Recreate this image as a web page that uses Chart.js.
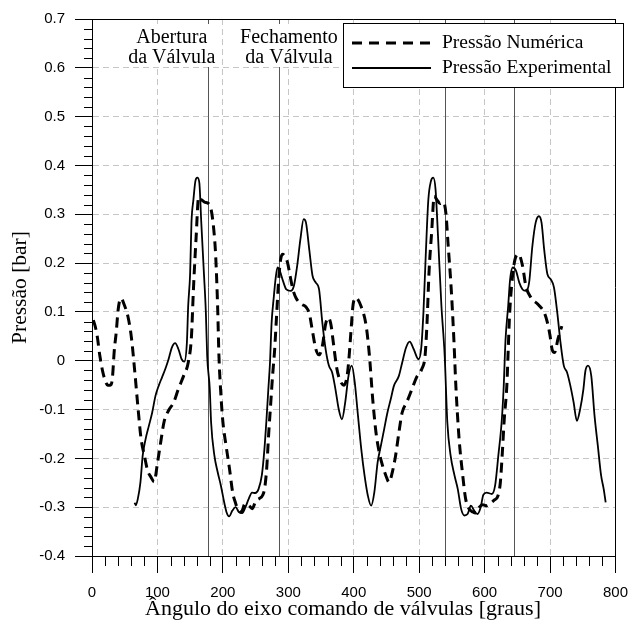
<!DOCTYPE html>
<html>
<head>
<meta charset="utf-8">
<script src="https://cdn.jsdelivr.net/npm/chart.js@4.4.0/dist/chart.umd.min.js"></script>
<style>
  html, body { margin: 0; padding: 0; background: #fff; }
  #wrap { width: 639px; height: 621px; }
</style>
</head>
<body>
<div id="wrap"><canvas id="pressureChart" width="639" height="621"></canvas></div>
<script>
// Numerical pressure (dashed)
const numAngle = [2, 5, 8, 12, 16, 20, 24, 28, 31, 34, 37, 40, 44, 50, 55, 60, 65, 70, 75, 80,
  85, 90, 95, 100, 105, 110, 117, 125, 132, 140, 147, 152, 155, 159, 163, 167, 172, 178, 182, 186,
  189, 192, 194, 197, 200, 205, 210, 215, 219, 223, 228, 234, 240, 245, 250, 256, 261, 264, 267, 270,
  273, 276, 279, 282, 285, 288, 291, 295, 299, 303, 307, 312, 320, 327, 332, 337, 342, 347, 352, 357,
  361, 365, 369, 374, 379, 385, 390, 393, 396, 399, 403, 411, 419, 424, 429, 434, 439, 444, 449, 454,
  459, 464, 469, 474, 481, 489, 496, 504, 509, 512, 515, 519, 523, 527, 532, 537, 541, 544, 549, 553,
  556, 561, 566, 571, 576, 582, 587, 592, 597, 602, 609, 615, 620, 624, 627, 630, 634, 636, 638, 641,
  646, 652, 658, 663, 671, 681, 691, 696, 700, 703, 707, 712, 718];
const numPressure = [0.083, 0.07, 0.05, 0.01, -0.02, -0.04, -0.05, -0.05, -0.038, 0.02, 0.058, 0.105, 0.128, 0.112, 0.09, 0.05, -0.017, -0.092, -0.16, -0.194,
  -0.225, -0.238, -0.248, -0.21, -0.167, -0.126, -0.102, -0.085, -0.058, -0.031, -0.004, 0.05, 0.146, 0.25, 0.335, 0.33, 0.325, 0.322, 0.31, 0.27,
  0.215, 0.11, 0.01, -0.07, -0.125, -0.175, -0.22, -0.27, -0.29, -0.305, -0.31, -0.293, -0.297, -0.303, -0.288, -0.282, -0.275, -0.26, -0.22, -0.15,
  -0.09, -0.03, 0.02, 0.09, 0.16, 0.205, 0.218, 0.214, 0.2, 0.172, 0.146, 0.128, 0.116, 0.11, 0.097, 0.06, 0.024, 0.012, 0.03, 0.075,
  0.088, 0.075, 0.035, -0.015, -0.04, -0.05, -0.03, 0.01, 0.065, 0.115, 0.129, 0.112, 0.071, 0.01, -0.079, -0.147, -0.188, -0.215, -0.235, -0.249,
  -0.228, -0.194, -0.147, -0.106, -0.085, -0.058, -0.034, -0.017, 0.01, 0.078, 0.18, 0.262, 0.337, 0.33, 0.322, 0.325, 0.3, 0.242, 0.146, 0.044,
  -0.05, -0.16, -0.228, -0.283, -0.303, -0.31, -0.312, -0.3, -0.295, -0.297, -0.292, -0.285, -0.278, -0.25, -0.19, -0.12, -0.05, 0.02, 0.09, 0.15,
  0.205, 0.218, 0.194, 0.153, 0.129, 0.116, 0.099, 0.078, 0.051, 0.024, 0.017, 0.044, 0.071];

// Experimental pressure (solid)
const expAngle = [65, 67, 70, 74, 77.5, 82, 87, 92, 97, 102, 107, 112, 117, 122, 127, 132, 137, 141, 145, 147,
  150, 152, 155, 158, 161, 164, 167, 171, 174, 176, 180, 182, 187, 192, 197, 202, 206, 209.5, 214.5, 219.5,
  224.5, 229.5, 234.5, 239.5, 244.5, 249.5, 254.5, 259.5, 263.5, 267, 269.5, 272, 274.5, 278, 280.5, 283.5, 287, 292, 297, 303.5,
  308.5, 313.5, 318.5, 323.5, 327, 332, 337, 342, 347, 352, 357, 362, 367, 372, 377, 382, 387, 392, 397, 401.5,
  406.5, 411.5, 416.5, 421.5, 426.5, 431.5, 436.5, 441.5, 446.5, 451.5, 456.5, 461.5, 469, 474, 480, 485.5, 491.5, 499, 503, 506.5,
  510, 514, 518, 521.5, 525, 529, 534, 539, 543, 548, 554, 559, 564, 569, 574, 579, 584, 589, 594, 598,
  603, 611, 616, 621, 626, 629, 632, 636, 639, 643, 648, 653, 658, 663, 668, 673, 678, 683, 687, 691,
  696, 701, 706, 711, 716, 721, 726, 731, 736, 741, 746, 751, 754, 758, 763, 768, 773, 778, 782, 785];
const expPressure = [-0.291, -0.296, -0.283, -0.249, -0.194, -0.16, -0.133, -0.106, -0.072, -0.051, -0.034, -0.017, 0.003, 0.027, 0.036, 0.024, 0.003, -0.002, 0.037, 0.112,
  0.18, 0.283, 0.33, 0.368, 0.375, 0.365, 0.283, 0.18, 0.099, 0.01, -0.058, -0.126, -0.194, -0.228, -0.256, -0.29, -0.312, -0.319, -0.307, -0.3,
  -0.31, -0.312, -0.3, -0.283, -0.27, -0.271, -0.263, -0.235, -0.181, -0.113, -0.058, -0.004, 0.078, 0.133, 0.167, 0.191, 0.184, 0.163, 0.146, 0.143,
  0.153, 0.194, 0.249, 0.29, 0.283, 0.228, 0.174, 0.16, 0.146, 0.078, 0.024, -0.01, -0.024, -0.058, -0.099, -0.12, -0.085, -0.031, -0.01, -0.044,
  -0.113, -0.181, -0.235, -0.276, -0.297, -0.269, -0.208, -0.174, -0.14, -0.106, -0.079, -0.051, -0.031, -0.004, 0.027, 0.039, 0.024, 0.003, 0.024, 0.099,
  0.215, 0.33, 0.368, 0.375, 0.351, 0.249, 0.112, 0.01, -0.126, -0.194, -0.235, -0.263, -0.303, -0.317, -0.314, -0.297, -0.307, -0.314, -0.3, -0.275,
  -0.27, -0.273, -0.256, -0.194, -0.126, -0.058, 0.044, 0.112, 0.167, 0.191, 0.184, 0.16, 0.146, 0.143, 0.16, 0.235, 0.283, 0.296, 0.283, 0.228,
  0.177, 0.167, 0.15, 0.099, 0.037, -0.01, -0.024, -0.051, -0.085, -0.123, -0.099, -0.058, -0.021, -0.01, -0.031, -0.113, -0.174, -0.235, -0.263, -0.29];

// valve opening / closing angles (vertical lines)
const valveAngles = [178, 286, 540, 645];
const seriesLabels = ['Pressão Numérica', 'Pressão Experimental'];
const xTitle = 'Ângulo do eixo comando de válvulas [graus]';
const yTitle = 'Pressão [bar]';

const SERIF = '"Liberation Serif", "Times New Roman", serif';
const SANS = '"Liberation Sans", Arial, sans-serif';

const toPoints = (xs, ys) => xs.map((x, i) => ({ x: x, y: ys[i] }));

const decor = {
  id: 'decor',
  beforeDatasetsDraw(chart) {
    const { ctx, chartArea: a, scales: { x } } = chart;
    ctx.save();
    ctx.strokeStyle = '#555';
    ctx.lineWidth = 1;
    valveAngles.forEach(v => {
      const px = Math.round(x.getPixelForValue(v)) + 0.5;
      ctx.beginPath();
      ctx.moveTo(px, a.top);
      ctx.lineTo(px, a.bottom);
      ctx.stroke();
    });
    ctx.restore();
  },
  afterDraw(chart) {
    const { ctx, chartArea: a, scales: { x, y } } = chart;
    ctx.save();

    // minor ticks
    ctx.strokeStyle = '#000';
    ctx.lineWidth = 1;
    for (let v = 20; v < 800; v += 20) {
      if (v % 100 === 0) continue;
      const px = Math.round(x.getPixelForValue(v)) + 0.5;
      ctx.beginPath();
      ctx.moveTo(px, a.bottom);
      ctx.lineTo(px, a.bottom + 10);
      ctx.stroke();
    }
    for (let k = -20; k <= 35; k++) {
      if (k % 5 === 0) continue;
      const py = Math.round(y.getPixelForValue(k * 0.02)) + 0.5;
      ctx.beginPath();
      ctx.moveTo(a.left - 8, py);
      ctx.lineTo(a.left, py);
      ctx.stroke();
    }

    // frame top and right
    ctx.beginPath();
    ctx.moveTo(a.left, Math.round(a.top) + 0.5);
    ctx.lineTo(a.right, Math.round(a.top) + 0.5);
    ctx.moveTo(Math.round(a.right) + 0.5, a.top);
    ctx.lineTo(Math.round(a.right) + 0.5, a.bottom);
    ctx.stroke();

    // valve annotations
    ctx.font = '20px ' + SERIF;
    ctx.fillStyle = '#000';
    ctx.textAlign = 'center';
    ctx.textBaseline = 'alphabetic';
    const notes = [
      { at: 122, lines: ['Abertura', 'da Válvula'] },
      { at: 301, lines: ['Fechamento', 'da Válvula'] }
    ];
    notes.forEach(n => {
      const cx = x.getPixelForValue(n.at);
      const w = Math.max(...n.lines.map(t => ctx.measureText(t).width)) + 4;
      ctx.fillStyle = '#fff';
      ctx.fillRect(cx - w / 2, a.top + 5, w, 43);
      ctx.fillStyle = '#000';
      ctx.fillText(n.lines[0], cx, a.top + 24);
      ctx.fillText(n.lines[1], cx, a.top + 44);
    });

    // legend
    const lx = 343, ly = 23, lw = 280, lh = 64;
    ctx.fillStyle = '#fff';
    ctx.fillRect(lx, ly, lw, lh);
    ctx.strokeStyle = '#000';
    ctx.lineWidth = 1;
    ctx.strokeRect(lx + 0.5, ly + 0.5, lw, lh);
    ctx.font = '19.5px ' + SERIF;
    const rows = [
      { label: seriesLabels[0], dash: [10, 7], width: 3, yy: 43 },
      { label: seriesLabels[1], dash: [], width: 1.8, yy: 68 }
    ];
    rows.forEach(r => {
      ctx.setLineDash(r.dash);
      ctx.lineWidth = r.width;
      ctx.beginPath();
      ctx.moveTo(352, r.yy);
      ctx.lineTo(431, r.yy);
      ctx.stroke();
      ctx.setLineDash([]);
      ctx.fillStyle = '#000';
      ctx.textAlign = 'left';
      ctx.textBaseline = 'middle';
      ctx.fillText(r.label, 442, r.yy);
    });

    // axis titles
    ctx.font = '22px ' + SERIF;
    ctx.textAlign = 'center';
    ctx.textBaseline = 'alphabetic';
    ctx.fillText(xTitle, 343, 615);
    ctx.font = '21.5px ' + SERIF;
    ctx.translate(20, (a.top + a.bottom) / 2);
    ctx.rotate(-Math.PI / 2);
    ctx.textBaseline = 'middle';
    ctx.fillText(yTitle, 0, 0);
    ctx.restore();
  }
};

const gridColor = (edge) => (c) => {
  const v = c.tick ? c.tick.value : null;
  return (v !== null && edge.some(e => Math.abs(v - e) < 1e-6)) ? 'rgba(0,0,0,0)' : '#c6c6c6';
};

new Chart(document.getElementById('pressureChart').getContext('2d'), {
  type: 'line',
  data: {
    datasets: [
      {
        label: seriesLabels[0],
        data: toPoints(numAngle, numPressure),
        borderColor: '#000',
        borderWidth: 3,
        borderDash: [10, 6],
        pointRadius: 0,
        cubicInterpolationMode: 'monotone',
        fill: false
      },
      {
        label: seriesLabels[1],
        data: toPoints(expAngle, expPressure),
        borderColor: '#000',
        borderWidth: 1.8,
        pointRadius: 0,
        cubicInterpolationMode: 'monotone',
        fill: false
      }
    ]
  },
  options: {
    responsive: false,
    devicePixelRatio: 1,
    animation: false,
    layout: { padding: { top: 18, right: 13, left: 0, bottom: 0 } },
    plugins: { legend: { display: false }, tooltip: { enabled: false } },
    scales: {
      x: {
        type: 'linear',
        min: 0,
        max: 800,
        afterFit: s => { s.height = 65; },
        ticks: {
          stepSize: 100,
          autoSkip: false,
          maxRotation: 0,
          padding: 11,
          color: '#000',
          font: { family: SANS, size: 15 }
        },
        grid: { color: gridColor([0, 800]), lineWidth: 1, tickLength: 17, tickColor: '#000', tickWidth: 1 },
        border: { display: true, color: '#000', width: 1, dash: [6, 4] }
      },
      y: {
        type: 'linear',
        min: -0.4,
        max: 0.7,
        afterFit: s => { s.width = 92; },
        ticks: {
          stepSize: 0.1,
          padding: 10,
          color: '#000',
          font: { family: SANS, size: 15 },
          callback: v => Math.abs(v) < 1e-9 ? '0' : v.toFixed(1)
        },
        grid: { color: gridColor([-0.4, 0.7]), lineWidth: 1, tickLength: 17, tickColor: '#000', tickWidth: 1 },
        border: { display: true, color: '#000', width: 1, dash: [6, 4] }
      }
    }
  },
  plugins: [decor]
});
</script>
</body>
</html>
